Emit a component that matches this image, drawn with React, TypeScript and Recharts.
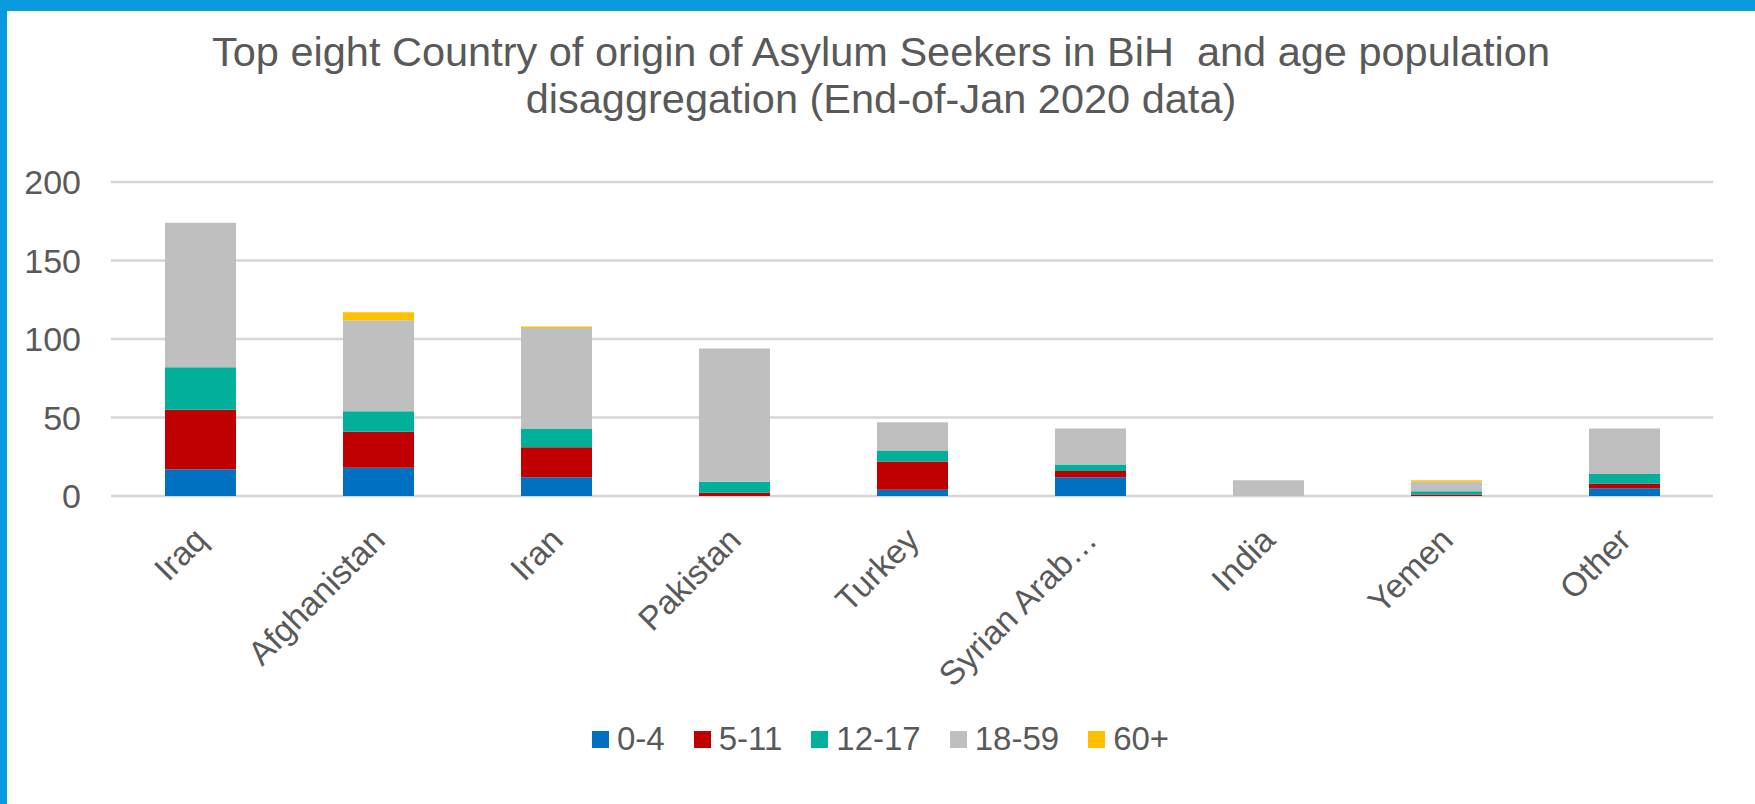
import React from "react";
import { BarChart, Bar, XAxis, YAxis, CartesianGrid, Legend } from "recharts";

const countries = ["Iraq", "Afghanistan", "Iran", "Pakistan", "Turkey", "Syrian Arab…", "India", "Yemen", "Other"];
const age0to4 = [17, 18, 12, 0, 4, 12, 0, 0, 5];
const age5to11 = [38, 23, 19, 2, 18, 4, 0, 1, 3];
const age12to17 = [27, 13, 12, 7, 7, 4, 0, 2, 6];
const age18to59 = [92, 58, 64, 85, 18, 23, 10, 6, 29];
const age60plus = [0, 5, 1, 0, 0, 0, 0, 1, 0];
const yTicks = [0, 50, 100, 150, 200];

const series = [
  { key: "0-4", values: age0to4, color: "#0070C0" },
  { key: "5-11", values: age5to11, color: "#C00000" },
  { key: "12-17", values: age12to17, color: "#00B09B" },
  { key: "18-59", values: age18to59, color: "#BFBFBF" },
  { key: "60+", values: age60plus, color: "#FFC000" },
];

const data = countries.map((name, i) => {
  const row: Record<string, string | number> = { name };
  series.forEach((s) => (row[s.key] = s.values[i]));
  return row;
});

const FONT = '"Liberation Sans", Arial, sans-serif';
const TEXT = "#595959";

function XTick({ x, y, payload }: any) {
  const tx = x + 9;
  const ty = y + 38;
  return (
    <text x={tx} y={ty} transform={`rotate(-45 ${tx} ${ty})`} textAnchor="end" fontSize={33.5} fontFamily={FONT} fill={TEXT}>
      {payload.value}
    </text>
  );
}

function YTick({ y, payload }: any) {
  return (
    <text x={81} y={y} textAnchor="end" dominantBaseline="central" fontSize={34} fontFamily={FONT} fill={TEXT}>
      {payload.value}
    </text>
  );
}

function LegendBox() {
  return (
    <div style={{ height: 90, boxSizing: "border-box", paddingTop: 8, paddingLeft: 592, display: "flex", alignItems: "flex-start" }}>
      {series.map((s) => (
        <div key={s.key} style={{ display: "flex", alignItems: "center", height: 34, marginRight: 29 }}>
          <span style={{ width: 17, height: 17, background: s.color, display: "inline-block", marginRight: 8 }} />
          <span style={{ fontSize: 33, fontFamily: FONT, color: TEXT, lineHeight: "34px" }}>{s.key}</span>
        </div>
      ))}
    </div>
  );
}

export default function App() {
  return (
    <div style={{ position: "fixed", left: 0, top: 0, width: 1755, height: 804, background: "#fff", overflow: "hidden" }}>
      <div style={{ position: "absolute", left: 0, top: 0, width: 1755, height: 11, background: "#0A9ADF" }} />
      <div style={{ position: "absolute", left: 0, top: 0, width: 7, height: 804, background: "#0A9ADF" }} />
      <div
        style={{
          position: "absolute",
          left: 0,
          top: 28,
          width: 1755,
          paddingLeft: 7,
          boxSizing: "border-box",
          textAlign: "center",
          fontFamily: FONT,
          fontSize: 41.5,
          lineHeight: "47px",
          color: TEXT,
          whiteSpace: "pre",
        }}
      >
        {"Top eight Country of origin of Asylum Seekers in BiH  and age population\ndisaggregation (End-of-Jan 2020 data)"}
      </div>
      <BarChart width={1755} height={804} data={data} margin={{ top: 182, right: 42, left: 0, bottom: 0 }}>
        <CartesianGrid vertical={false} stroke="#D6D6D6" strokeWidth={2.5} />
        <XAxis dataKey="name" height={218} axisLine={false} tickLine={false} tick={<XTick />} interval={0} />
        <YAxis width={111} domain={[0, 200]} ticks={yTicks} axisLine={false} tickLine={false} tick={<YTick />} />
        <Legend verticalAlign="bottom" content={<LegendBox />} />
        {series.map((s) => (
          <Bar key={s.key} dataKey={s.key} stackId="a" fill={s.color} barSize={71} isAnimationActive={false} />
        ))}
      </BarChart>
    </div>
  );
}
